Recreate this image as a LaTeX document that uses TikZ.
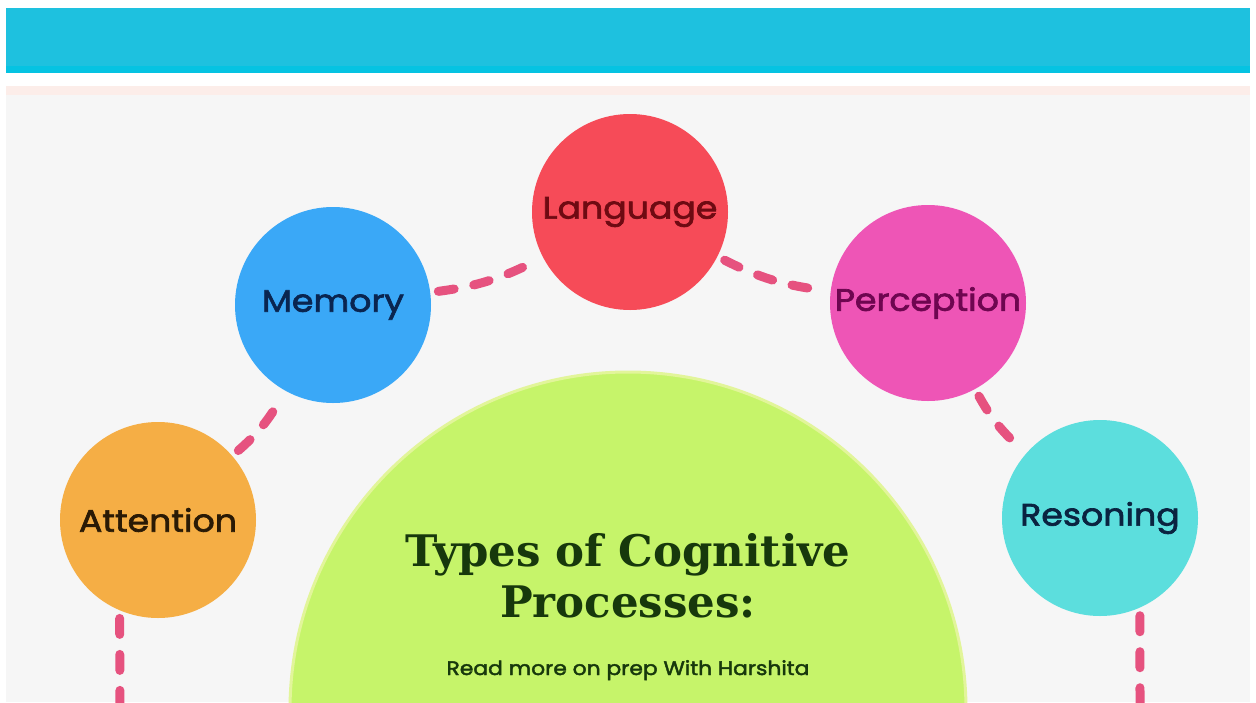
\documentclass[tikz,border=0pt]{standalone}
\usepackage{fontspec}
\setmainfont{Liberation Serif}
\newfontfamily\labelfont[FakeBold=2.2, FakeStretch=1.12]{Poppins}
\newfontfamily\titlefont{DejaVu Serif}
\usetikzlibrary{arrows}

\definecolor{band}{HTML}{1EC1DF}
\definecolor{bandedge}{HTML}{05C3E2}
\definecolor{paper}{HTML}{F6F6F6}
\definecolor{blush}{HTML}{FCEDE9}
\definecolor{lime}{HTML}{C6F46A}
\definecolor{limerim}{HTML}{E2F59A}
\definecolor{linkpink}{HTML}{E6527F}
\definecolor{attn}{HTML}{F5AE45}
\definecolor{attntext}{HTML}{2A1A05}
\definecolor{mem}{HTML}{3AA8F7}
\definecolor{memtext}{HTML}{0A2550}
\definecolor{lang}{HTML}{F64B58}
\definecolor{langtext}{HTML}{6E0A12}
\definecolor{perc}{HTML}{EE55B6}
\definecolor{perctext}{HTML}{6E0650}
\definecolor{reas}{HTML}{5CDEDD}
\definecolor{reastext}{HTML}{0A2340}
\definecolor{titlegreen}{HTML}{17380C}

\begin{document}
\begin{tikzpicture}[x=1pt, y=-1pt,
    process/.style={circle, minimum size=196pt, inner sep=0pt, font=\labelfont\fontsize{31}{34}\selectfont},
    link/.style={draw=linkpink, line width=9pt, line cap=round, dash pattern=on 16pt off 20pt, shorten <=8pt, shorten >=8pt}]
    %page and header band
    \useasboundingbox[fill=white] (0,0) rectangle (1256,702);
    \fill[paper] (6,8) rectangle (1250,702);
    \fill[white] (6,72) rectangle (1250,86);
    \fill[blush] (6,86) rectangle (1250,95);
    \fill[band] (6,8) rectangle (1250,70);
    \fill[bandedge] (6,66) rectangle (1250,73);

    %the half disc in the middle
    \begin{scope}
        \clip (6,8) rectangle (1250,702);
        \fill[lime, draw=limerim, line width=3pt] (628,710) circle (338pt);
    \end{scope}

    %define the processes
    \node[process, fill=attn, text=attntext] (attention) at (158,520) {Attention};
    \node[process, fill=mem, text=memtext] (memory) at (333,305) {Memory};
    \node[process, fill=lang, text=langtext] (language) at (630,212) {Language};
    \node[process, fill=perc, text=perctext] (perception) at (928,303) {Perception};
    \node[process, fill=reas, text=reastext] (reasoning) at (1100,518) {Resoning};
    \coordinate (attnfoot) at (120,712);
    \coordinate (reasfoot) at (1140,712);

    %titles
    \node[anchor=base, text=titlegreen, font=\titlefont\bfseries\fontsize{43.5}{50}\selectfont] (title) at (628,566) {Types of Cognitive};
    \node[anchor=base, text=titlegreen, font=\titlefont\bfseries\fontsize{43.5}{50}\selectfont] (title2) at (628,617) {Processes:};
    \node[anchor=base, text=titlegreen, font=\labelfont\fontsize{19.5}{22}\selectfont] (byline) at (628,675) {Read more on prep With Harshita};

    %define the links
    \path[link] (attention) edge[bend right=10] (memory)
                (memory)    edge[bend right=10] (language)
                (language)  edge[bend right=10] (perception)
                (perception) edge[bend right=10] (reasoning)
                (attention.-113) edge (attnfoot)
                (reasoning.-66)  edge (reasfoot);
\end{tikzpicture}
\end{document}
